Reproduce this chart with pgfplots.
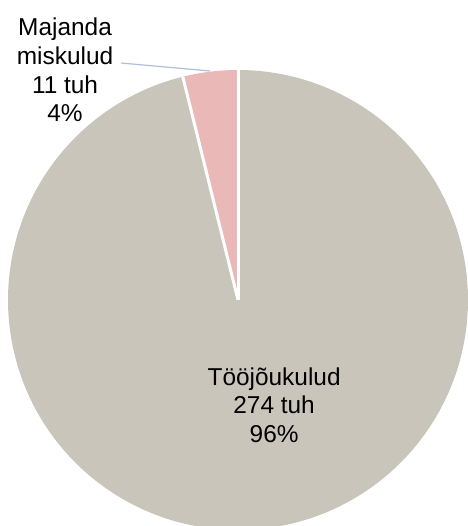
\documentclass[border=0pt]{standalone}
\usepackage{pgfplots}
\pgfplotsset{compat=1.18}
\usepackage{fontspec}
\setmainfont{Liberation Sans}
\definecolor{slgray}{HTML}{C9C5BA}
\definecolor{slpink}{HTML}{EBB8B8}
\definecolor{leader}{HTML}{B0BEDC}
\begin{document}
\begin{tikzpicture}
\path[use as bounding box] (0,0) rectangle (468bp,526bp);
\clip (0,0) rectangle (468bp,526bp);
% data (tuh): Tööjõukulud 274, Majandamiskulud 11
\pgfmathsetmacro\vA{274}
\pgfmathsetmacro\vB{11}
\pgfmathsetmacro\total{\vA+\vB}
\pgfmathsetmacro\aA{90}
\pgfmathsetmacro\aB{90+360*\vB/\total}
\pgfmathsetmacro\aC{450}
\begin{axis}[at={(238bp,226bp)}, anchor=origin, x=230bp, y=230bp,
  xmin=-1.1, xmax=1.1, ymin=-1.1, ymax=1.1, hide axis, clip=false]
\addplot[draw=none, fill=slpink, domain=\aA:\aB, samples=40, variable=\t]
  ({cos(\t)},{sin(\t)}) -- (axis cs:0,0) -- cycle;
\addplot[draw=none, fill=slgray, domain=\aB:\aC, samples=300, variable=\t]
  ({cos(\t)},{sin(\t)}) -- (axis cs:0,0) -- cycle;
\addplot[white, line width=3bp, samples=2, domain=0:1, variable=\t]
  ({\t*cos(\aA)},{\t*sin(\aA)});
\addplot[white, line width=3bp, samples=2, domain=0:1, variable=\t]
  ({\t*cos(\aB)},{\t*sin(\aB)});
\addplot[leader, line width=1.2bp] coordinates {(-0.5087,1.0304) (-0.1217,0.9957)};
\node[align=center, inner sep=0pt, font=\fontsize{24.5}{28.8}\selectfont]
  at (axis cs:-0.752,1.0) {Majanda\\miskulud\\11 tuh\\4\%};
\node[align=center, inner sep=0pt, font=\fontsize{24.5}{28.8}\selectfont]
  at (axis cs:0.157,-0.457) {Tööjõukulud\\274 tuh\\96\%};
\end{axis}
\end{tikzpicture}
\end{document}
